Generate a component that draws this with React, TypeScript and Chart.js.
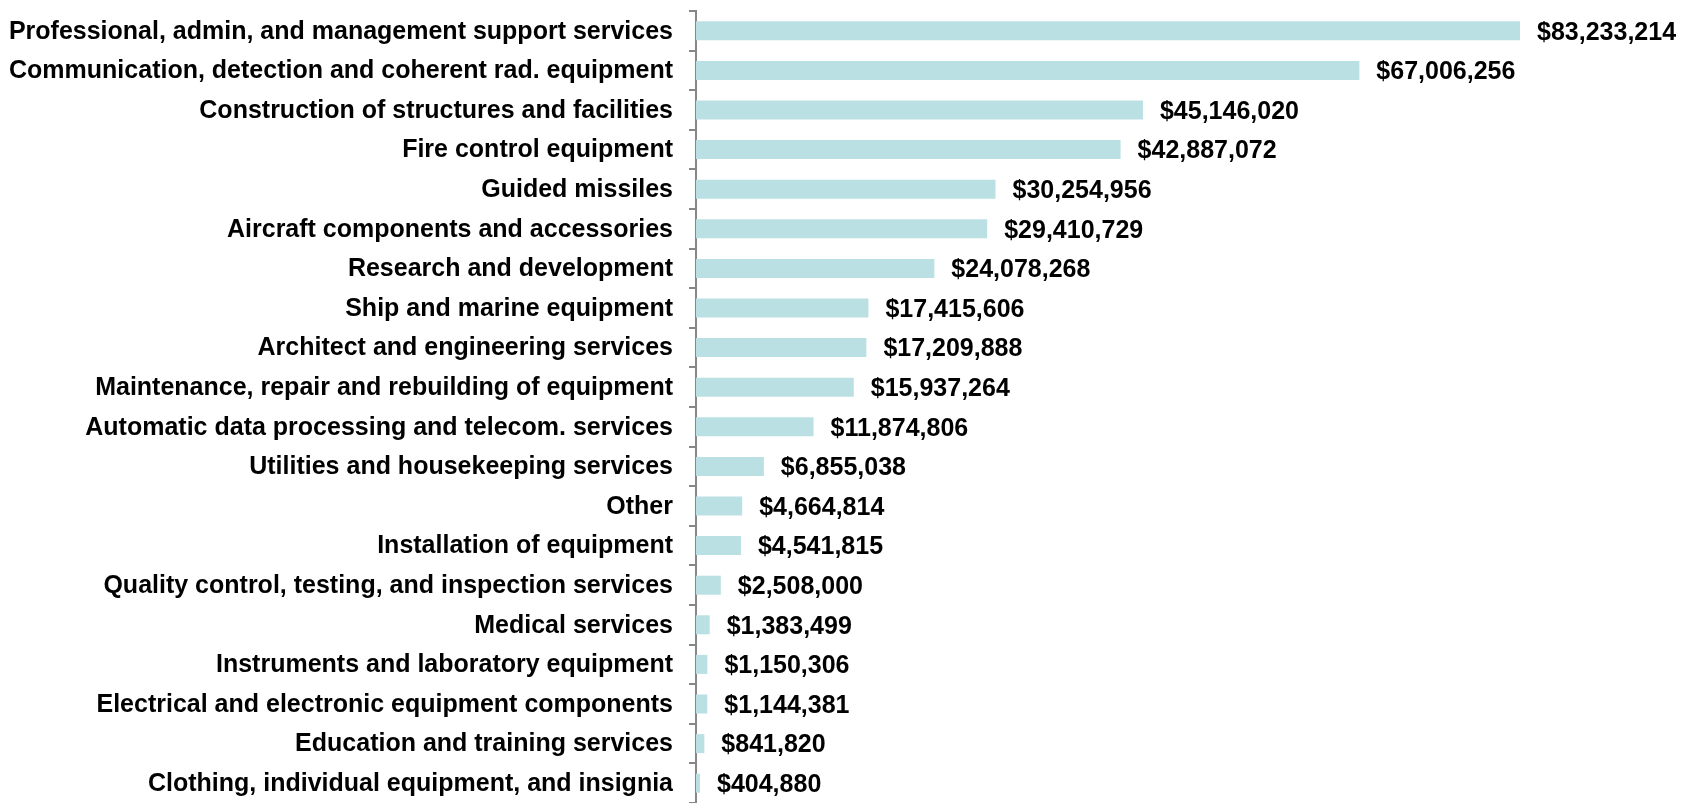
import React, { useEffect, useRef } from "react";
import { Chart, registerables } from "chart.js";

Chart.register(...registerables);

const categories: string[] = [
  "Professional, admin, and management support services",
  "Communication, detection and coherent rad. equipment",
  "Construction of structures and facilities",
  "Fire control equipment",
  "Guided missiles",
  "Aircraft components and accessories",
  "Research and development",
  "Ship and marine equipment",
  "Architect and engineering services",
  "Maintenance, repair and rebuilding of equipment",
  "Automatic data processing and telecom. services",
  "Utilities and housekeeping services",
  "Other",
  "Installation of equipment",
  "Quality control, testing, and inspection services",
  "Medical services",
  "Instruments and laboratory equipment",
  "Electrical and electronic equipment components",
  "Education and training services",
  "Clothing, individual equipment, and insignia",
];

const amounts: number[] = [
  83233214, 67006256, 45146020, 42887072, 30254956, 29410729, 24078268,
  17415606, 17209888, 15937264, 11874806, 6855038, 4664814, 4541815,
  2508000, 1383499, 1150306, 1144381, 841820, 404880,
];

const axisMax = 90000000;

const FONT = '"Liberation Sans", Arial, sans-serif';

const valueLabels = {
  id: "valueLabels",
  afterDatasetsDraw(chart: any) {
    const ctx = chart.ctx;
    const meta = chart.getDatasetMeta(0);
    ctx.save();
    ctx.font = `bold 25px ${FONT}`;
    ctx.fillStyle = "#000000";
    ctx.textAlign = "left";
    ctx.textBaseline = "middle";
    meta.data.forEach((bar: any, i: number) => {
      const v = chart.data.datasets[0].data[i] as number;
      const txt = "$" + v.toLocaleString("en-US");
      ctx.fillText(txt, bar.x + 17, bar.y + 2);
    });
    ctx.restore();
  },
};

export default function App() {
  const ref = useRef<HTMLCanvasElement | null>(null);

  useEffect(() => {
    document.body.style.margin = "0";
    const canvas = ref.current;
    if (!canvas) return;
    const chart = new Chart(canvas, {
      type: "bar",
      data: {
        labels: categories,
        datasets: [
          {
            data: amounts,
            backgroundColor: "rgb(186,224,228)",
            borderWidth: 0,
            barPercentage: 0.48,
            categoryPercentage: 1,
          },
        ],
      },
      options: {
        indexAxis: "y",
        responsive: false,
        animation: false,
        layout: { padding: { left: 0, right: 116, top: 11, bottom: -3 } },
        plugins: {
          legend: { display: false },
          tooltip: { enabled: false },
          title: { display: false },
        },
        scales: {
          x: {
            display: false,
            min: 0,
            max: axisMax,
          },
          y: {
            offset: true,
            afterFit: (scale: any) => {
              scale.width = 696;
              scale.paddingTop = 0;
              scale.paddingBottom = 0;
            },
            grid: {
              offset: true,
              drawOnChartArea: false,
              drawTicks: true,
              tickLength: 7,
              color: "#878787",
              lineWidth: 2,
            },
            border: { display: true, color: "#878787", width: 2 },
            ticks: {
              padding: 16,
              labelOffset: 1,
              color: "#000000",
              autoSkip: false,
              font: { family: FONT, size: 25, weight: "bold" },
            },
          },
        },
      },
      plugins: [valueLabels],
    });
    return () => chart.destroy();
  }, []);

  return (
    <div style={{ width: 1703, height: 803, overflow: "hidden" }}>
      <canvas ref={ref} width={1703} height={803} />
    </div>
  );
}
